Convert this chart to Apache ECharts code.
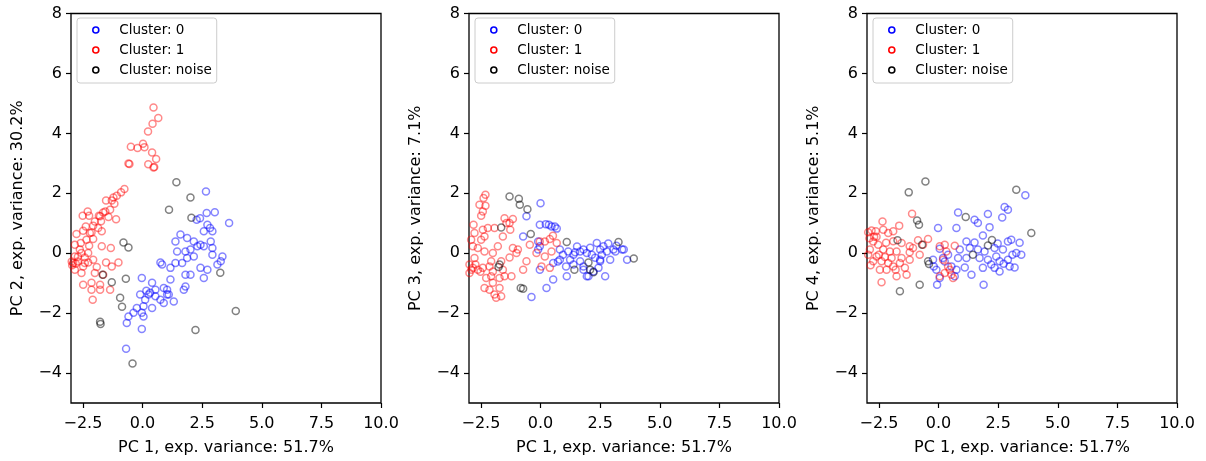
<!DOCTYPE html>
<html>
<head>
<meta charset="utf-8">
<script src="https://cdn.jsdelivr.net/npm/echarts@6/dist/echarts.min.js"></script>
<style>
  html, body { margin: 0; padding: 0; background: #fff; }
  #chart { width: 1206px; height: 461px; }
</style>
</head>
<body>
<div id="chart"></div>
<script>
  // PC1 vs PC2
  const pc2Cluster0 = [
    [2.66, 2.06], [2.69, 1.34], [3.03, 1.37], [3.63, 1.01], [2.41, 1.17], [2.27, 1.12], [2.72, 0.95],
    [2.83, 0.84], [2.93, 0.73], [2.57, 0.73], [1.59, 0.62], [1.38, 0.39], [1.87, 0.51], [2.15, 0.39],
    [2.30, 0.23], [2.43, 0.28], [2.57, 0.23], [2.86, 0.39], [2.93, 0.17], [2.93, -0.05], [1.45, 0.06],
    [1.80, 0.06], [2.01, 0.12], [2.15, -0.11], [1.87, -0.16], [1.38, -0.33], [1.66, -0.33], [0.82, -0.38],
    [1.17, -0.49], [2.43, -0.49], [2.72, -0.55], [3.35, -0.11], [3.28, -0.27], [3.14, -0.38], [2.01, -0.72],
    [2.57, -0.83], [1.80, -0.72], [1.17, -0.88], [1.03, -1.22], [1.80, -1.11], [1.73, -1.22], [1.31, -1.61],
    [0.89, -1.66], [1.10, -1.38], [0.75, -0.31], [-0.03, -0.83], [0.40, -0.99], [0.89, -1.16], [-0.10, -1.38],
    [0.25, -1.38], [0.54, -1.44], [1.03, -1.38], [0.11, -1.55], [0.04, -1.77], [0.40, -1.83], [0.75, -1.55],
    [-0.24, -1.83], [-0.38, -1.99], [-0.59, -2.11], [-0.66, -2.33], [-0.03, -1.99], [0.04, -2.11],
    [-0.03, -2.53], [-0.69, -3.19], [0.54, -1.22], [0.32, -1.32], [0.16, -1.25]
  ];
  const pc2Cluster1 = [
    [0.46, 4.86], [0.66, 4.51], [0.42, 4.32], [0.23, 4.06], [-0.49, 3.55], [-0.21, 3.51], [0.02, 3.65],
    [0.08, 3.54], [0.40, 3.36], [0.57, 3.14], [-0.59, 2.99], [-0.55, 2.98], [0.24, 2.97], [0.46, 2.86],
    [0.49, 2.88], [-0.76, 2.14], [-0.90, 2.03], [-1.08, 1.92], [-1.22, 1.86], [-1.29, 1.76], [-1.53, 1.76],
    [-1.18, 1.65], [-1.36, 1.45], [-1.56, 1.39], [-1.65, 1.36], [-1.83, 1.25], [-2.30, 1.39], [-2.51, 1.25],
    [-2.24, 1.25], [-1.78, 1.23], [-1.43, 1.21], [-1.74, 1.07], [-1.11, 1.13], [-2.00, 1.06], [-2.07, 0.92],
    [-2.38, 0.89], [-1.86, 0.84], [-1.71, 0.73], [-2.49, 0.75], [-2.14, 0.69], [-2.77, 0.64], [-2.21, 0.67],
    [-2.07, 0.47], [-2.35, 0.45], [-2.59, 0.34], [-2.84, 0.28], [-2.24, 0.25], [-1.71, 0.23], [-1.33, 0.17],
    [-2.28, 0.01], [-2.56, 0.01], [-2.84, -0.11], [-2.91, -0.33], [-2.71, -0.28], [-2.42, -0.33],
    [-2.07, -0.22], [-1.53, -0.31], [-1.01, -0.31], [-2.56, -0.66], [-2.00, -0.66], [-2.84, -0.55],
    [-2.97, -0.28], [-2.49, -1.05], [-2.14, -0.99], [-1.78, -1.05], [-1.36, -1.22], [-2.14, -1.22],
    [-1.78, -1.22], [-2.09, -1.55], [-1.65, -0.72], [-1.29, -0.44], [-1.92, -0.46], [-2.28, -0.31],
    [-2.49, -0.44], [-2.71, -0.12], [-2.63, 0.12], [-2.42, -0.14], [-2.95, -0.40], [-2.80, -0.35]
  ];
  const pc2Noise = [
    [1.42, 2.37], [2.01, 1.86], [1.11, 1.45], [2.05, 1.18], [-0.80, 0.36], [-0.59, 0.19], [-1.67, -0.72],
    [-1.29, -0.97], [-0.70, -0.85], [-0.94, -1.49], [-0.86, -1.79], [-1.78, -2.29], [-1.76, -2.36],
    [2.22, -2.56], [3.26, -0.65], [3.91, -1.93], [-0.42, -3.68]
  ];

  // PC1 vs PC3
  const pc3Cluster0 = [
    [0.00, 1.67], [-0.59, 1.23], [-0.03, 0.95], [0.22, 0.97], [0.35, 0.95], [0.46, 0.89], [0.60, 0.89],
    [0.68, 0.82], [-0.73, 0.56], [-0.10, 0.39], [-0.03, 0.23], [-0.10, 0.12], [0.81, 0.12], [1.16, 0.06],
    [1.38, -0.05], [1.66, 0.06], [1.80, 0.12], [1.94, 0.01], [2.36, 0.34], [2.50, 0.12], [2.64, 0.23],
    [2.78, 0.06], [3.06, 0.12], [3.49, 0.12], [3.63, -0.22], [2.92, -0.22], [2.50, -0.22], [2.15, -0.05],
    [0.81, -0.22], [0.53, -0.33], [-0.03, -0.55], [1.24, -0.22], [1.66, -0.27], [1.10, -0.77], [0.53, -0.88],
    [0.25, -1.16], [-0.38, -1.46], [2.01, -0.77], [2.71, -0.77], [1.80, -0.55], [2.43, -0.49], [1.45, 0.03],
    [3.14, 0.06], [3.42, 0.12], [2.57, -0.05], [2.50, -0.27], [1.07, -0.44], [1.38, -0.38], [1.80, -0.44],
    [2.22, -0.61], [1.94, -0.77], [0.94, -0.05], [2.08, 0.18], [2.84, 0.32], [3.18, 0.25], [2.29, -0.15],
    [1.53, 0.22], [0.73, -0.28]
  ];
  const pc3Cluster1 = [
    [-2.31, 1.95], [-2.39, 1.84], [-2.56, 1.62], [-2.31, 1.58], [-2.42, 1.39], [-2.49, 1.25], [-2.81, 0.95],
    [-2.21, 0.84], [-1.93, 0.84], [-1.51, 1.17], [-1.16, 1.14], [-1.30, 1.01], [-1.43, 1.01], [-1.27, 0.78],
    [-2.42, 0.78], [-2.77, 0.67], [-2.35, 0.56], [-2.49, 0.45], [-1.58, 0.56], [-1.79, 0.23], [-2.84, 0.23],
    [-2.63, 0.17], [-2.91, 0.45], [-2.35, 0.06], [-2.00, 0.01], [-1.16, 0.17], [-0.95, 0.12], [-1.01, 0.01],
    [-1.30, -0.14], [-0.59, -0.27], [-0.45, 0.28], [-0.17, 0.01], [-0.03, 0.39], [0.18, 0.39], [0.39, 0.47],
    [0.68, 0.34], [0.52, 0.58], [0.46, 0.06], [0.18, -0.11], [0.39, -0.49], [0.04, -0.44], [-0.73, -0.55],
    [-2.84, -0.49], [-2.63, -0.55], [-2.42, -0.49], [-2.14, -0.44], [-2.07, -0.27], [-1.65, -0.27],
    [-2.00, -0.61], [-1.72, -0.83], [-1.51, -0.77], [-1.22, -0.77], [-2.07, -0.77], [-2.28, -0.83],
    [-2.00, -0.99], [-2.35, -1.16], [-2.14, -1.22], [-1.72, -1.16], [-1.93, -1.38], [-1.65, -1.44],
    [-1.86, -1.49], [-2.98, -0.66], [-2.77, -0.16], [-1.58, -0.55], [-2.98, -0.38], [-2.73, -0.38],
    [-2.90, -0.55], [-2.52, -0.62]
  ];
  const pc3Noise = [
    [-1.30, 1.89], [-0.91, 1.82], [-0.87, 1.62], [-0.55, 1.47], [-1.65, 0.86], [-0.41, 0.64], [1.10, 0.37],
    [-1.76, -0.46], [-1.72, -0.38], [-0.83, -1.16], [-0.73, -1.19], [1.42, -0.55], [2.01, -0.31],
    [2.08, -0.55], [2.22, -0.64], [3.27, 0.37], [3.91, -0.18]
  ];

  // PC1 vs PC4
  const pc4Cluster0 = [
    [0.82, 1.36], [1.51, 1.12], [1.65, 1.01], [2.07, 1.31], [2.77, 1.54], [2.91, 1.45], [3.64, 1.93],
    [2.67, 1.19], [2.14, 0.87], [-0.02, 0.84], [0.75, 0.84], [1.86, 0.59], [3.05, 0.45], [2.91, 0.39],
    [1.17, 0.39], [1.51, 0.36], [0.05, 0.15], [0.89, 0.12], [1.31, 0.17], [1.65, 0.12], [1.93, 0.06],
    [2.35, 0.17], [2.70, 0.12], [3.26, 0.01], [3.47, -0.05], [2.42, -0.11], [2.91, -0.22], [2.56, -0.27],
    [2.07, -0.22], [1.72, -0.16], [1.17, -0.16], [0.82, -0.16], [0.40, -0.05], [0.19, -0.16], [-0.23, -0.22],
    [-0.09, -0.55], [-0.20, -0.44], [0.54, -0.44], [0.75, -0.55], [0.68, -0.77], [-0.06, -1.05], [0.05, -0.83],
    [1.38, -0.72], [1.89, -1.05], [1.86, -0.49], [2.35, -0.49], [2.56, -0.61], [2.98, -0.44], [2.21, -0.38],
    [3.10, -0.05], [2.48, 0.32], [3.40, 0.35], [0.26, -0.28], [2.73, -0.35], [1.10, -0.48], [3.19, -0.48]
  ];
  const pc4Cluster1 = [
    [-1.11, 1.32], [-2.35, 1.06], [-1.65, 0.92], [-2.81, 0.76], [-2.63, 0.73], [-2.32, 0.78], [-2.11, 0.67],
    [-1.90, 0.73], [-0.44, 0.47], [-0.86, 0.43], [-1.21, 0.23], [-1.07, 0.17], [-1.55, 0.34], [-2.74, 0.39],
    [-2.53, 0.28], [-2.88, 0.12], [-2.32, 0.12], [-2.04, 0.06], [-1.76, 0.06], [-1.21, 0.03], [-2.60, -0.11],
    [-2.25, -0.13], [-1.97, -0.16], [-1.55, -0.16], [-1.21, -0.22], [-2.74, -0.27], [-2.39, -0.27],
    [-2.11, -0.33], [-1.62, -0.33], [-1.90, -0.44], [-1.41, -0.49], [-2.46, -0.55], [-2.18, -0.55],
    [-1.76, -0.77], [-1.34, -0.72], [-2.39, -0.97], [-0.65, 0.28], [-0.79, -0.05], [0.05, 0.23], [0.26, 0.28],
    [0.68, 0.25], [0.33, 0.06], [0.19, -0.22], [0.40, -0.44], [0.47, -0.55], [0.26, -0.66], [0.54, -0.72],
    [0.05, -0.77], [0.61, -0.83], [-2.95, 0.70], [-2.90, 0.50], [-2.95, -0.05], [-2.85, -0.40],
    [-2.70, 0.55], [-2.50, -0.05], [-2.20, 0.35], [-1.80, -0.55], [-2.60, 0.55], [-1.90, 0.40]
  ];
  const pc4Noise = [
    [-0.55, 2.39], [-1.25, 2.03], [3.26, 2.12], [1.14, 1.21], [-0.90, 1.09], [-0.82, 0.95], [-1.72, 0.43],
    [-0.69, 0.28], [2.24, 0.44], [2.07, 0.26], [1.44, -0.05], [-0.44, -0.27], [-0.40, -0.36], [3.89, 0.67],
    [-0.79, -1.05], [-1.62, -1.27]
  ];

  const xTicks = [-2.5, 0, 2.5, 5, 7.5, 10];
  const yTicks = [-4, -2, 0, 2, 4, 6, 8];
  const clusterNames = ["Cluster: 0", "Cluster: 1", "Cluster: noise"];
  const clusterColors = ["#0000ff", "#ff0000", "#000000"];
  const clusterStrokes = ["rgba(0,0,255,0.6)", "rgba(255,0,0,0.58)", "rgba(0,0,0,0.62)"];
  const yNames = ["PC 2, exp. variance: 30.2%", "PC 3, exp. variance: 7.1%", "PC 4, exp. variance: 5.1%"];
  const xName = "PC 1, exp. variance: 51.7%";
  const panels = [
    [pc2Cluster0, pc2Cluster1, pc2Noise],
    [pc3Cluster0, pc3Cluster1, pc3Noise],
    [pc4Cluster0, pc4Cluster1, pc4Noise]
  ];
  const gridLefts = [71, 469, 867];

  const FONT = "DejaVu Sans";
  const minus = (v) => String(v).replace("-", "\u2212");

  const chart = echarts.init(document.getElementById("chart"), null, { renderer: "canvas" });

  const grids = gridLefts.map((left) => ({
    left: left, top: 13.5, width: 310, height: 390,
    show: true, borderColor: "#000", borderWidth: 1.3, backgroundColor: "transparent"
  }));

  const xAxes = gridLefts.map((_, i) => ({
    type: "value", gridIndex: i, min: -3, max: 10, position: "bottom",
    name: xName, nameLocation: "middle", nameGap: 37,
    nameTextStyle: { fontFamily: FONT, fontSize: 16, color: "#000" },
    axisLine: { show: false, onZero: false },
    splitLine: { show: false },
    axisTick: { show: true, length: 5, inside: false, customValues: xTicks, lineStyle: { color: "#000", width: 1.2 } },
    axisLabel: {
      customValues: xTicks, margin: 13, fontFamily: FONT, fontSize: 16, color: "#000",
      formatter: (v) => minus(v.toFixed(1))
    }
  }));

  const yAxes = gridLefts.map((_, i) => ({
    type: "value", gridIndex: i, min: -5, max: 8, position: "left",
    name: yNames[i], nameLocation: "middle", nameGap: 45,
    nameTextStyle: { fontFamily: FONT, fontSize: 16, color: "#000" },
    axisLine: { show: false, onZero: false },
    splitLine: { show: false },
    axisTick: { show: true, length: 5, inside: false, customValues: yTicks, lineStyle: { color: "#000", width: 1.2 } },
    axisLabel: {
      customValues: yTicks, margin: 9, fontFamily: FONT, fontSize: 16, color: "#000",
      formatter: (v) => minus(v)
    }
  }));

  const series = [];
  panels.forEach((groups, p) => {
    groups.forEach((points, c) => {
      series.push({
        name: clusterNames[c],
        type: "scatter",
        xAxisIndex: p,
        yAxisIndex: p,
        symbol: "circle",
        symbolSize: 7,
        itemStyle: { color: "rgba(0,0,0,0)", borderColor: clusterStrokes[c], borderWidth: 1.5 },
        emphasis: { disabled: true },
        data: points
      });
    });
  });

  const legends = gridLefts.map((left) => ({
    left: left + 6, top: 18,
    orient: "vertical",
    icon: "circle",
    itemWidth: 37, itemHeight: 6, itemGap: 4,
    padding: [4, 5, 5, 15],
    backgroundColor: "rgba(255,255,255,0.8)",
    borderColor: "#cccccc", borderWidth: 1, borderRadius: 3,
    selectedMode: false,
    textStyle: { fontFamily: FONT, fontSize: 13.5, color: "#000", lineHeight: 16 },
    data: clusterNames.map((name, c) => ({
      name: name,
      itemStyle: { color: "#ffffff", borderColor: clusterColors[c], borderWidth: 1.6, opacity: 1 }
    }))
  }));

  chart.setOption({
    animation: false,
    backgroundColor: "#fff",
    grid: grids,
    xAxis: xAxes,
    yAxis: yAxes,
    legend: legends,
    series: series
  });
</script>
</body>
</html>
